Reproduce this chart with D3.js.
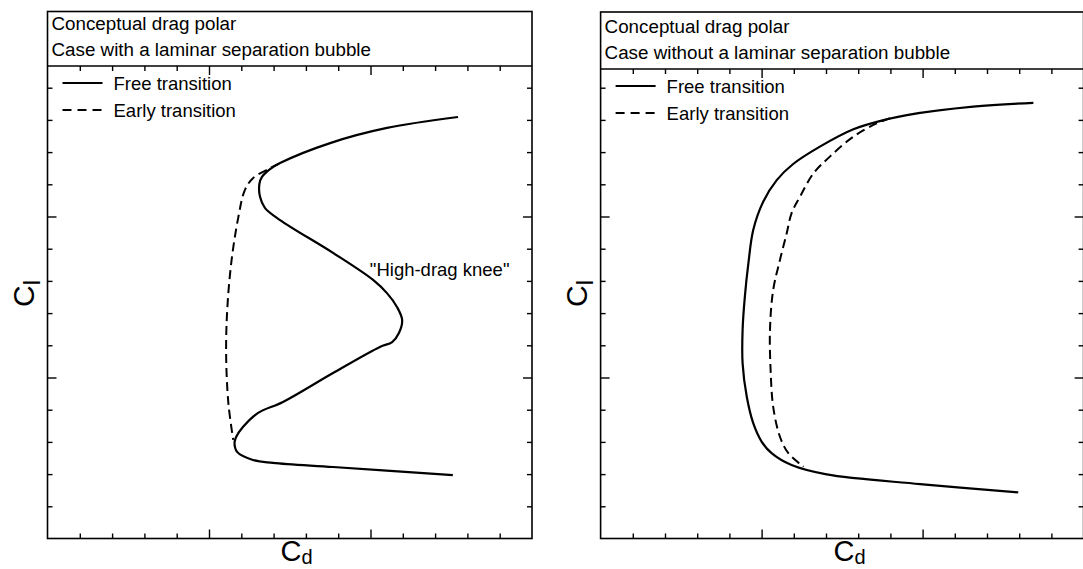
<!DOCTYPE html>
<html>
<head>
<meta charset="utf-8">
<script src="https://cdn.jsdelivr.net/npm/d3@7"></script>
<style>
  body { margin: 0; background: #fff; }
  svg { display: block; font-family: "Liberation Sans", Arial, Helvetica, sans-serif; }
</style>
</head>
<body>
<svg id="chart" width="1083" height="569"></svg>
<script>
// Conceptual drag polars. The original axes carry no numbers, so every
// value below is read off the picture in tick divisions (0..15).

const leftTitle = ['Conceptual drag polar', 'Case with a laminar separation bubble'];
const rightTitle = ['Conceptual drag polar', 'Case without a laminar separation bubble'];
const seriesNames = ['Free transition', 'Early transition'];

// left panel, with a laminar separation bubble
const bubbleFreeCd = [12.71, 10.51, 8.75, 7.20, 6.89, 6.64, 6.56, 6.58, 6.73, 7.20, 8.84, 10.08, 10.51, 10.82,
  10.98, 10.88, 10.67, 10.29, 8.84, 7.29, 6.52, 6.05, 5.84, 5.79, 5.87, 6.36, 6.98, 8.84, 12.55];
const bubbleFreeCl = [13.09, 12.75, 12.28, 11.66, 11.47, 11.23, 11.01, 10.61, 10.27, 9.89, 8.87, 8.03, 7.62, 7.19,
  6.79, 6.38, 6.10, 5.95, 5.14, 4.24, 3.90, 3.46, 3.15, 2.97, 2.69, 2.44, 2.35, 2.22, 1.97];
const bubbleEarlyCd = [7.17, 6.89, 6.36, 6.11, 5.91, 5.70, 5.57, 5.53, 5.60, 5.75];
const bubbleEarlyCl = [11.64, 11.50, 11.19, 10.82, 9.99, 8.65, 7.20, 5.75, 4.20, 3.06];

// right panel, without a bubble
const cleanFreeCd = [13.44, 11.57, 9.51, 8.89, 7.85, 6.81, 5.98, 5.47, 5.05, 4.74, 4.59, 4.48, 4.41, 4.41,
  4.54, 4.74, 5.00, 5.31, 5.93, 7.02, 9.92, 12.97];
const cleanFreeCl = [13.53, 13.41, 13.15, 13.02, 12.71, 12.17, 11.63, 11.13, 10.46, 9.58, 8.55, 7.51, 6.48, 5.44,
  4.40, 3.58, 3.01, 2.65, 2.28, 1.99, 1.69, 1.43];
const cleanEarlyCd = [8.99, 8.57, 7.85, 7.12, 6.61, 6.19, 5.93, 5.78, 5.57, 5.36, 5.26, 5.28, 5.36, 5.57, 5.83, 6.30];
const cleanEarlyCl = [13.05, 12.89, 12.48, 11.86, 11.34, 10.61, 10.10, 9.48, 8.65, 7.72, 6.48, 5.23, 4.09, 3.16, 2.65, 2.23];

const tickSteps = [1, 2, 3, 4, 5, 6, 7, 8, 9, 10, 11, 12, 13, 14];
const majorSteps = [5, 10];
const kneeLabel = ['"High-drag knee"'];
const kneeCd = [9.98];
const kneeCl = [8.15];

const svg = d3.select('#chart');
const plotBottom = 538.5;
const yStep = 32.2;

function zip(cd, cl) {
  return cd.map((v, i) => [v, cl[i]]);
}

function drawPanel(p) {
  const g = svg.append('g');
  const right = p.left + 15 * p.step;

  const x = d3.scaleLinear().domain([0, 15]).range([p.left, right]);
  const y = d3.scaleLinear().domain([0, 15]).range([plotBottom, plotBottom - 15 * yStep]);

  const tickLen = (d) => majorSteps.includes(d) ? 9 : 5;
  const axisStyle = (a) => {
    a.select('.domain').remove();
    a.selectAll('.tick line').attr('stroke', '#000').attr('stroke-width', 1.4);
  };

  g.append('g')
    .attr('transform', `translate(0,${plotBottom})`)
    .call(d3.axisBottom(x).tickValues(tickSteps).tickSizeOuter(0).tickFormat(''))
    .call(axisStyle)
    .call((a) => a.selectAll('.tick line').attr('y2', (d) => -tickLen(d)));

  g.append('g')
    .attr('transform', `translate(0,${p.headerBottom})`)
    .call(d3.axisTop(x).tickValues(tickSteps).tickSizeOuter(0).tickFormat(''))
    .call(axisStyle)
    .call((a) => a.selectAll('.tick line').attr('y2', (d) => tickLen(d)));

  g.append('g')
    .attr('transform', `translate(${p.left},0)`)
    .call(d3.axisLeft(y).tickValues(tickSteps).tickSizeOuter(0).tickFormat(''))
    .call(axisStyle)
    .call((a) => a.selectAll('.tick line').attr('x2', (d) => tickLen(d)));

  g.append('g')
    .attr('transform', `translate(${right},0)`)
    .call(d3.axisRight(y).tickValues(tickSteps).tickSizeOuter(0).tickFormat(''))
    .call(axisStyle)
    .call((a) => a.selectAll('.tick line').attr('x2', (d) => -tickLen(d)));

  // frame and header box
  g.append('rect')
    .attr('x', p.left).attr('y', p.headerTop)
    .attr('width', right - p.left).attr('height', plotBottom - p.headerTop)
    .attr('fill', 'none').attr('stroke', '#000').attr('stroke-width', 1.6);
  g.append('line')
    .attr('x1', p.left).attr('x2', right)
    .attr('y1', p.headerBottom).attr('y2', p.headerBottom)
    .attr('stroke', '#000').attr('stroke-width', 1.6);

  g.selectAll('.title')
    .data(p.title)
    .join('text')
    .attr('class', 'title')
    .attr('x', p.left + 4)
    .attr('y', (d, i) => p.headerBottom - 36.5 + i * 26)
    .attr('font-size', 18.8)
    .text((d) => d);

  // curves
  const line = d3.line()
    .x((d) => x(d[0]))
    .y((d) => y(d[1]))
    .curve(d3.curveCatmullRom.alpha(0.5));

  g.append('path')
    .datum(p.early)
    .attr('d', line)
    .attr('fill', 'none').attr('stroke', '#000').attr('stroke-width', 2)
    .attr('stroke-dasharray', '9,5');
  g.append('path')
    .datum(p.free)
    .attr('d', line)
    .attr('fill', 'none').attr('stroke', '#000').attr('stroke-width', 2.2);

  // legend
  const legend = g.append('g').attr('transform', `translate(${p.left},${p.headerBottom})`);
  seriesNames.forEach((name, i) => {
    legend.append('line')
      .attr('x1', 15).attr('x2', 55)
      .attr('y1', 17 + i * 27).attr('y2', 17 + i * 27)
      .attr('stroke', '#000').attr('stroke-width', 2)
      .attr('stroke-dasharray', i === 1 ? '9,6' : null);
    legend.append('text')
      .attr('x', 66).attr('y', 24 + i * 27)
      .attr('font-size', 18.5)
      .text(name);
  });

  // axis names
  const cdLabel = g.append('text')
    .attr('x', p.left + 233).attr('y', 561)
    .attr('font-size', 29);
  cdLabel.append('tspan').text('C');
  cdLabel.append('tspan').attr('font-size', 20).attr('dy', 3).text('d');

  const clLabel = g.append('text')
    .attr('transform', `translate(${p.left - 14},307) rotate(-90)`)
    .attr('font-size', 30);
  clLabel.append('tspan').text('C');
  clLabel.append('tspan').attr('font-size', 24).attr('dy', 6).text('l');

  return { x, y, g };
}

const leftPanel = drawPanel({
  left: 47.5, step: 32.3, headerTop: 11.5, headerBottom: 66,
  title: leftTitle,
  free: zip(bubbleFreeCd, bubbleFreeCl),
  early: zip(bubbleEarlyCd, bubbleEarlyCl)
});

drawPanel({
  left: 600.6, step: 32.2, headerTop: 12, headerBottom: 69,
  title: rightTitle,
  free: zip(cleanFreeCd, cleanFreeCl),
  early: zip(cleanEarlyCd, cleanEarlyCl)
});

leftPanel.g.selectAll('.note')
  .data(kneeLabel)
  .join('text')
  .attr('class', 'note')
  .attr('x', (d, i) => leftPanel.x(kneeCd[i]))
  .attr('y', (d, i) => leftPanel.y(kneeCl[i]))
  .attr('font-size', 18.5)
  .text((d) => d);
</script>
</body>
</html>
